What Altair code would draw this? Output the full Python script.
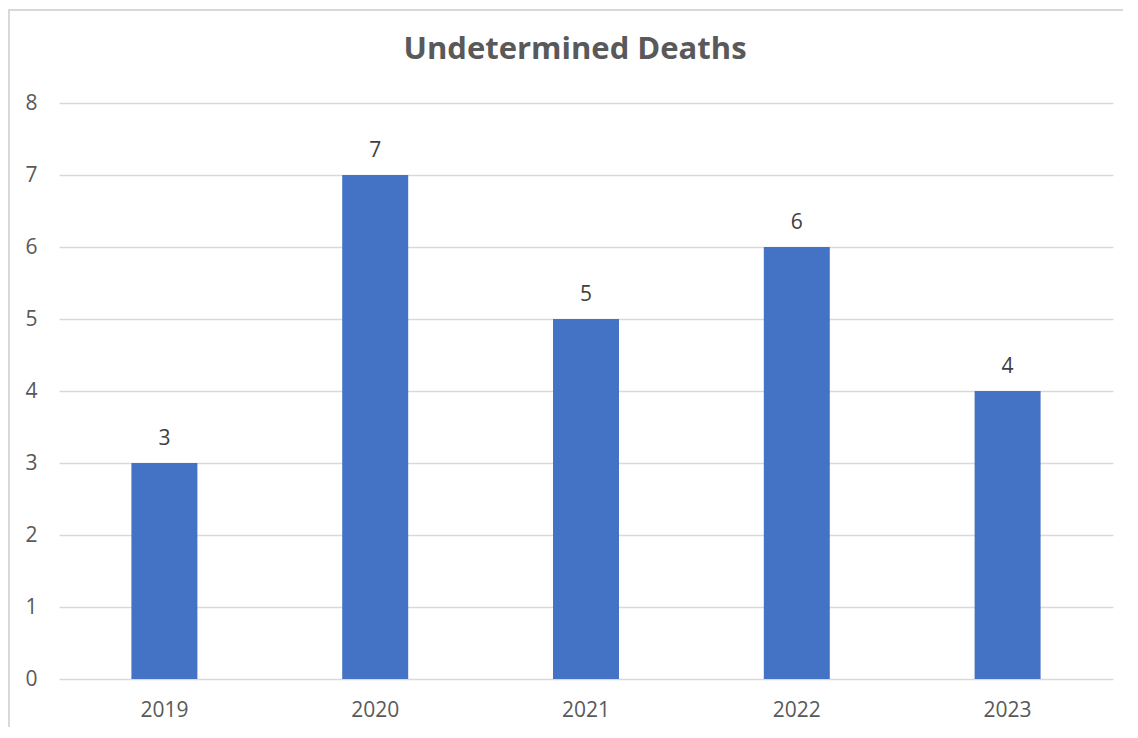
import altair as alt
import pandas as pd

years = ["2019", "2020", "2021", "2022", "2023"]
deaths = [3, 7, 5, 6, 4]

df = pd.DataFrame({"year": years, "deaths": deaths})

FONT = "Open Sans"
GRAY = "#595959"

base = alt.Chart(df)

x_enc = alt.X(
    "year:N",
    sort=years,
    title=None,
    scale=alt.Scale(paddingInner=0.687, paddingOuter=0.3435),
    axis=alt.Axis(labelAngle=0, labelFontSize=21, labelColor=GRAY, labelFont=FONT,
                  ticks=False, domain=False, labelPadding=20, grid=False),
)
y_enc = alt.Y(
    "deaths:Q",
    title=None,
    scale=alt.Scale(domain=[0, 8], nice=False),
    axis=alt.Axis(values=[0, 1, 2, 3, 4, 5, 6, 7, 8], format="d", labelFontSize=21,
                  labelColor=GRAY, labelFont=FONT, ticks=False, domain=False,
                  labelPadding=22, grid=True, gridColor="#D9D9D9", gridWidth=1.5),
)

bars = base.mark_bar(color="#4472C4").encode(x=x_enc, y=y_enc)

labels = base.mark_text(dy=-14, baseline="bottom", fontSize=21, font=FONT, color="#404040").encode(
    x=alt.X("year:N", sort=years), y="deaths:Q", text="deaths:Q"
)

left_edge = base.mark_rule(stroke="#D9D9D9", strokeWidth=2).encode(
    x=alt.value(-50), y=alt.value(-94), y2=alt.value(800)
)
top_edge = base.mark_rule(stroke="#D9D9D9", strokeWidth=2).encode(
    x=alt.value(-51), x2=alt.value(1200), y=alt.value(-93)
)

chart = alt.layer(left_edge, top_edge, bars, labels).properties(
    width=1054,
    height=576,
    title=alt.TitleParams("Undetermined Deaths", font=FONT, fontSize=31, fontWeight="bold",
                          color=GRAY, anchor="middle", offset=-58, dx=-11, frame="group"),
    autosize=alt.AutoSizeParams(type="none"),
    padding={"left": 51, "top": 95, "right": 10, "bottom": 48},
).configure_view(stroke=None)

chart.save("out.html", embed_options={"renderer": "svg", "actions": False})
